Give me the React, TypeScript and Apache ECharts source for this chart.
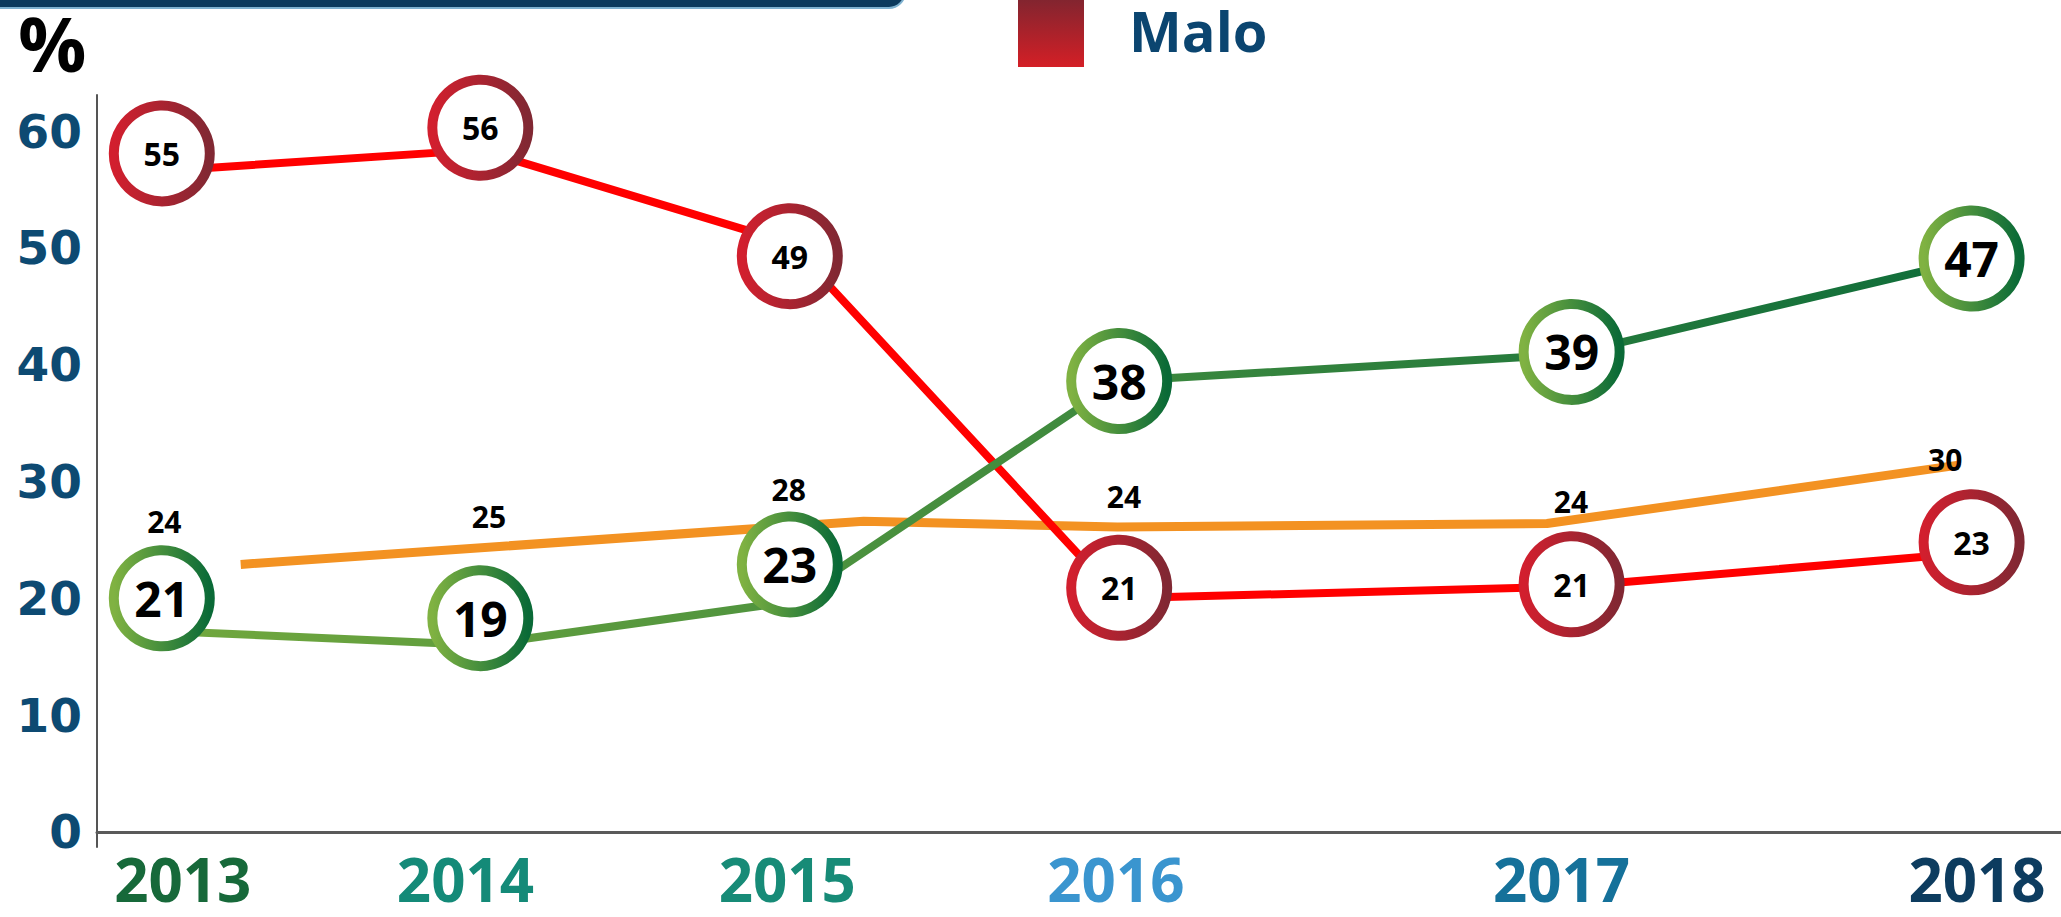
import React, { useEffect, useRef } from "react";
import * as echarts from "echarts";

// ---- data ----
const years = ["2013", "2014", "2015", "2016", "2017", "2018"];
// horizontal placement (in axis units) of each year's marks, as drawn in the reference
const yearPos = [2013.0, 2013.88, 2014.735, 2015.645, 2016.895, 2018.0];
const yearLabelPos = [2013.058, 2013.839, 2014.728, 2015.636, 2016.867, 2018.015];

// "Malo" (red)
const maloLabels = [55, 56, 49, 21, 21, 23];
const maloMarker = [58.1, 60.3, 49.3, 20.9, 21.2, 24.8];
const maloLine = [56.6, 58.4, 50.4, 20.0, 21.0, 23.9];

// green series
const buenoLabels = [21, 19, 23, 38, 39, 47];
const buenoMarker = [20.0, 18.3, 22.9, 38.6, 41.1, 49.1];
const buenoLine = [17.2, 16.0, 19.7, 38.6, 40.9, 49.0];

// orange series
const regularLabels = [24, 25, 28, 24, 24, 30];
const regularLabelX = [2013.007, 2013.904, 2014.732, 2015.658, 2016.893, 2017.927];
const regularLabelY = [26.6, 27.0, 29.3, 28.7, 28.3, 31.9];
const regularLineX = [2013.218, 2014.939, 2015.64, 2016.827, 2017.964];
const regularLine = [22.9, 26.6, 26.1, 26.4, 31.4];

const yTicks = [0, 10, 20, 30, 40, 50, 60];
const yearColors = ["#17693a", "#148a78", "#178b77", "#3a95cf", "#15719a", "#0d3c5f"];

const FONT = "'Open Sans', 'Noto Sans', sans-serif";

function nearestYear(v: number) {
  let best = 0;
  for (let i = 0; i < yearLabelPos.length; i++) {
    if (Math.abs(yearLabelPos[i] - v) < Math.abs(yearLabelPos[best] - v)) best = i;
  }
  return best;
}

const redRing = {
  type: "linear", x: 0, y: 0, x2: 1, y2: 0,
  colorStops: [
    { offset: 0, color: "#d21f2e" },
    { offset: 1, color: "#812833" },
  ],
};
const greenRing = {
  type: "linear", x: 0, y: 0, x2: 1, y2: 0,
  colorStops: [
    { offset: 0, color: "#80b242" },
    { offset: 1, color: "#0a6a37" },
  ],
};
const greenLineGrad = {
  type: "linear", x: 0, y: 0, x2: 1, y2: 0,
  colorStops: [
    { offset: 0, color: "#72a83e" },
    { offset: 0.5, color: "#3f8a3e" },
    { offset: 1, color: "#0f6d3a" },
  ],
};

export default function App() {
  const ref = useRef<HTMLDivElement>(null);
  useEffect(() => {
    document.body.style.margin = "0";
    const chart = echarts.init(ref.current!, null, { renderer: "svg" });
    const option: any = {
      animation: false,
      backgroundColor: "#ffffff",
      grid: { left: 97, right: 0, top: 95, bottom: 70, containLabel: false },
      legend: {
        left: 1013,
        top: -12,
        itemWidth: 66,
        itemHeight: 74,
        selectedMode: false,
        data: [
          {
            name: "Malo",
            icon: "rect",
            itemStyle: {
              borderWidth: 0,
              color: {
                type: "linear", x: 0, y: 0, x2: 0, y2: 1,
                colorStops: [
                  { offset: 0, color: "#7a2530" },
                  { offset: 1, color: "#d41f26" },
                ],
              },
            },
          },
        ],
        textStyle: {
          fontSize: 56,
          fontWeight: "bold",
          color: "#0b4570",
          fontFamily: FONT,
          padding: [0, 0, 0, 40],
        },
      },
      xAxis: {
        type: "value",
        min: 2012.821,
        max: 2018.247,
        splitLine: { show: false },
        axisTick: { show: false },
        axisLine: { show: true, lineStyle: { color: "#5a5a5a", width: 3 } },
        axisLabel: {
          customValues: yearLabelPos,
          formatter: (v: number) => years[nearestYear(v)],
          color: (v: any) => yearColors[nearestYear(Number(v))],
          fontSize: 60,
          lineHeight: 60,
          fontWeight: "bold",
          fontFamily: FONT,
          margin: 2,
        },
      },
      yAxis: {
        type: "value",
        min: -1.3,
        max: 63.1,
        splitNumber: 6,
        splitLine: { show: false },
        axisTick: { show: false },
        axisLine: { show: true, lineStyle: { color: "#555555", width: 2 } },
        axisLabel: {
          formatter: (v: number) => (yTicks.indexOf(Math.round(v * 100) / 100) >= 0 ? String(v) : ""),
          color: "#0d4a72",
          fontSize: 47,
          fontWeight: "bold",
          fontFamily: "'DejaVu Sans', sans-serif",
          margin: 15,
        },
      },
      graphic: [
        {
          type: "rect",
          shape: { x: -20, y: -30, width: 925, height: 38, r: 16 },
          style: { fill: "#0c3a5d", stroke: "#7fb2d0", lineWidth: 2 },
          z: 10,
        },
        {
          type: "text",
          left: 18,
          top: 4,
          style: { text: "%", fontSize: 76, fontWeight: "bold", fill: "#000", fontFamily: FONT },
          z: 10,
        },
      ],
      series: [
        {
          name: "Regular (línea)",
          type: "line",
          data: regularLineX.map((x, i) => [x, regularLine[i]]),
          symbol: "none",
          lineStyle: { color: "#f39222", width: 9 },
          z: 2,
        },
        {
          name: "Regular",
          type: "scatter",
          data: regularLabelX.map((x, i) => [x, regularLabelY[i]]),
          symbolSize: 1,
          itemStyle: { color: "#ffffff", opacity: 1 },
          label: {
            show: true,
            position: "inside",
            formatter: (p: any) => String(regularLabels[p.dataIndex]),
            fontSize: 30,
            fontWeight: "bold",
            color: "#000000",
            textBorderWidth: 0,
            opacity: 1,
            fontFamily: FONT,
          },
          z: 6,
        },
        {
          name: "Malo (línea)",
          type: "line",
          data: yearPos.map((x, i) => [x, maloLine[i]]),
          symbol: "none",
          lineStyle: { color: "#ff0000", width: 8 },
          z: 3,
        },
        {
          name: "Bueno (línea)",
          type: "line",
          data: yearPos.map((x, i) => [x, buenoLine[i]]),
          symbol: "none",
          lineStyle: { color: greenLineGrad, width: 8 },
          z: 4,
        },
        {
          name: "Malo",
          type: "scatter",
          data: yearPos.map((x, i) => [x, maloMarker[i]]),
          symbol: "circle",
          symbolSize: 96,
          itemStyle: { color: "#ffffff", borderColor: redRing, borderWidth: 10, opacity: 1 },
          label: {
            show: true,
            position: "inside",
            formatter: (p: any) => String(maloLabels[p.dataIndex]),
            fontSize: 32,
            fontWeight: "bold",
            color: "#000000",
            textBorderWidth: 0,
            fontFamily: FONT,
          },
          z: 5,
        },
        {
          name: "Bueno",
          type: "scatter",
          data: yearPos.map((x, i) => [x, buenoMarker[i]]),
          symbol: "circle",
          symbolSize: 96,
          itemStyle: { color: "#ffffff", borderColor: greenRing, borderWidth: 10, opacity: 1 },
          label: {
            show: true,
            position: "inside",
            formatter: (p: any) => String(buenoLabels[p.dataIndex]),
            fontSize: 48,
            fontWeight: "bold",
            color: "#000000",
            textBorderWidth: 0,
            fontFamily: FONT,
          },
          z: 5,
        },
      ],
    };
    chart.setOption(option);
    return () => chart.dispose();
  }, []);
  return <div ref={ref} style={{ width: 2061, height: 917 }} />;
}
